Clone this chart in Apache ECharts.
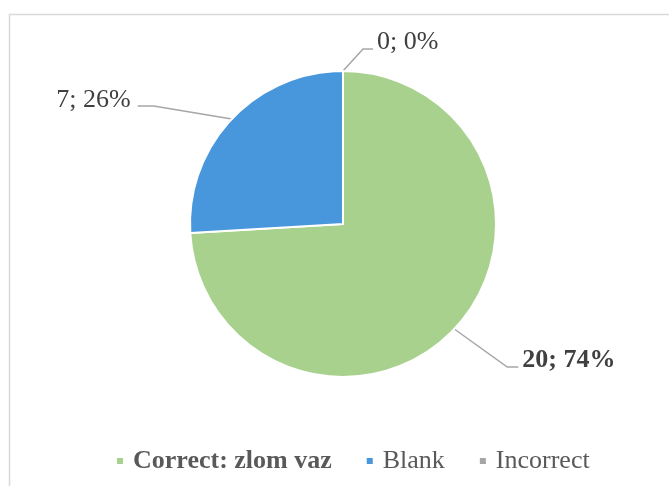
<!DOCTYPE html>
<html>
<head>
<meta charset="utf-8">
<script src="https://cdn.jsdelivr.net/npm/echarts@6/dist/echarts.min.js"></script>
<style>
html,body{margin:0;padding:0;background:#fff;}
#c{width:669px;height:486px;}
</style>
</head>
<body>
<div id="c"></div>
<script>
const categories = ['Correct: zlom vaz', 'Blank', 'Incorrect'];
const values = [20, 7, 0];
const colors = ['#A9D18E', '#4897DD', '#A5A5A5'];

// leader-line and label offsets relative to the slice edge point
const leaderOffsets = [
  { elbow: [53, 38], end: [64, 38], text: [68, 31], align: 'left' },
  { elbow: [-78, -13], end: [-94, -13], text: [-101, -19], align: 'right' },
  { elbow: [20, -22], end: [30, -22], text: [34, -29], align: 'left' }
];

const chart = echarts.init(document.getElementById('c'), null, { renderer: 'canvas' });
const FONT = '"Liberation Serif", "Times New Roman", serif';

const data = categories.map((name, i) => ({
  name: name,
  value: values[i],
  itemStyle: { color: colors[i] },
  label: i === 0 ? { fontWeight: 'bold' } : {}
}));

chart.setOption({
  animation: false,
  backgroundColor: '#fff',
  graphic: [{
    type: 'rect',
    shape: { x: 9.5, y: 14.5, width: 700, height: 500 },
    style: { fill: 'none', stroke: '#D9D9D9', lineWidth: 1.5 },
    silent: true
  }],
  legend: {
    left: 110,
    top: 443,
    icon: 'rect',
    itemWidth: 8,
    itemHeight: 8,
    itemGap: 33,
    data: categories,
    textStyle: {
      fontFamily: FONT,
      fontSize: 26,
      color: '#595959',
      rich: {
        b: { fontFamily: FONT, fontSize: 26, fontWeight: 'bold', color: '#595959', padding: [0, 0, 0, 4] },
        n: { fontFamily: FONT, fontSize: 26, color: '#595959', padding: [0, 0, 0, 4] }
      }
    },
    formatter: function (name) { return (name === categories[0] ? '{b|' : '{n|') + name + '}'; }
  },
  series: [{
    type: 'pie',
    center: [343, 224],
    radius: [0, 153],
    startAngle: 90,
    clockwise: true,
    avoidLabelOverlap: false,
    percentPrecision: 0,
    itemStyle: { borderColor: '#fff', borderWidth: 2 },
    label: {
      show: true,
      position: 'outside',
      formatter: '{c}; {d}%',
      fontFamily: FONT,
      fontSize: 26,
      color: '#404040'
    },
    labelLine: {
      show: true,
      length: 20,
      length2: 10,
      lineStyle: { color: '#A6A6A6', width: 1.5 }
    },
    labelLayout: function (params) {
      const o = leaderOffsets[params.dataIndex];
      const pts = params.labelLinePoints;
      if (!o || !pts) return {};
      const p0 = pts[0];
      return {
        x: p0[0] + o.text[0],
        y: p0[1] + o.text[1],
        align: o.align,
        verticalAlign: 'middle',
        labelLinePoints: [
          [p0[0], p0[1]],
          [p0[0] + o.elbow[0], p0[1] + o.elbow[1]],
          [p0[0] + o.end[0], p0[1] + o.end[1]]
        ]
      };
    },
    emphasis: { disabled: true },
    data: data
  }]
});
</script>
</body>
</html>
